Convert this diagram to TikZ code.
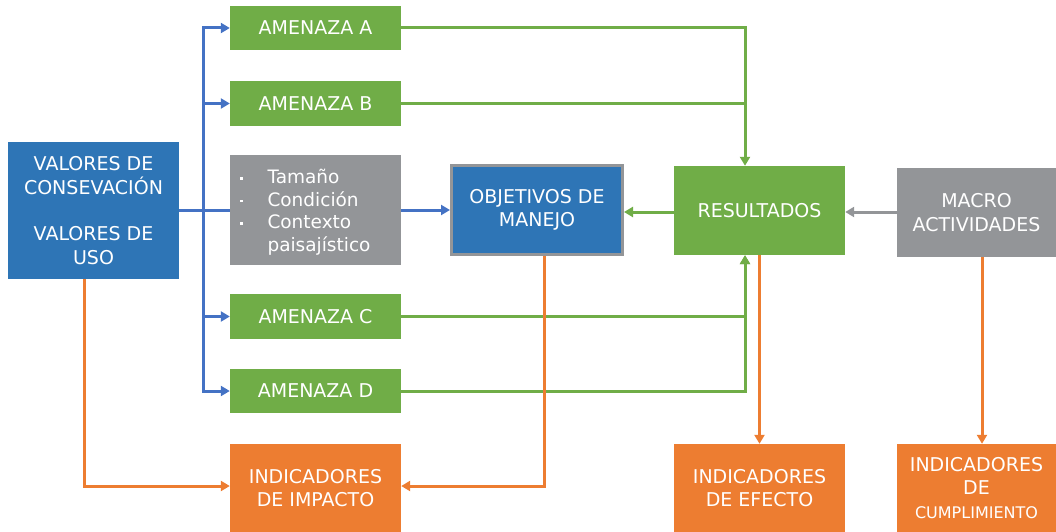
\documentclass[tikz,border=0pt]{standalone}
\usepackage{fontspec}
\setmainfont{DejaVu Sans}
\usetikzlibrary{arrows.meta}
\definecolor{cblue}{HTML}{2E75B6}
\definecolor{lblue}{HTML}{4472C4}
\definecolor{cgreen}{HTML}{70AD47}
\definecolor{cgray}{HTML}{939598}
\definecolor{corange}{HTML}{ED7D31}
\begin{document}
\begin{tikzpicture}[x=1pt,y=-1pt,
  box/.style={rectangle, inner sep=0pt, text=white, align=center,
    font=\fontsize{19}{23.3}\selectfont, minimum width=171pt},
  greenbox/.style={box, fill=cgreen},
  orangebox/.style={box, fill=corange},
  graybox/.style={box, fill=cgray},
  conn/.style={line width=3pt, -{Triangle[length=9pt,width=10pt]}},
  plain/.style={line width=3pt},
]
\useasboundingbox (0,0) rectangle (1056,532);

% nodes
\node[box, fill=cblue, minimum height=137pt] (val) at (93.5,210.5)
  {VALORES DE\\CONSEVACIÓN\\[23.3pt]VALORES DE\\USO};
\node[greenbox, minimum height=44pt] (amA) at (315.5,28) {AMENAZA A};
\node[greenbox, minimum height=45pt] (amB) at (315.5,103.5) {AMENAZA B};
\node[graybox, minimum height=110pt, text width=151pt, inner xsep=10pt, align=left,
  font=\fontsize{18.5}{22.6}\selectfont] (gr) at (315.5,210)
  {\raisebox{-3pt}[\height][\depth]{\begin{tabular}{@{}l@{\hspace{25pt}}l@{}}
   \rule[4pt]{2.5pt}{2.5pt} & Tamaño\\
   \rule[4pt]{2.5pt}{2.5pt} & Condición\\
   \rule[4pt]{2.5pt}{2.5pt} & Contexto\\
   & paisajístico
   \end{tabular}}};
\node[greenbox, minimum height=45pt] (amC) at (315.5,316.5) {AMENAZA C};
\node[greenbox, minimum height=44pt] (amD) at (315.5,391) {AMENAZA D};
\node[orangebox, minimum height=88pt] (imp) at (315.5,488) {INDICADORES\\DE IMPACTO};
\node[box, fill=cblue, draw=cgray, line width=3pt, minimum width=171pt,
  minimum height=89pt] (obj) at (537,210) {OBJETIVOS DE\\MANEJO};
\node[greenbox, minimum height=89pt] (res) at (759.5,210.5) {RESULTADOS};
\node[graybox, minimum width=159pt, minimum height=89pt] (mac) at (976.5,212.5)
  {MACRO\\ACTIVIDADES};
\node[orangebox, minimum height=88pt] (efe) at (759.5,488) {INDICADORES\\DE EFECTO};
\node[orangebox, minimum width=159pt, minimum height=88pt] (cum) at (976.5,488)
  {INDICADORES\\DE\\{\fontsize{16}{20}\selectfont CUMPLIMIENTO}};

% helper coordinates
\coordinate (trunk) at (203,210);
\coordinate (gx) at (745,0);
\coordinate (ox) at (84,0);
\coordinate (objx) at (544.5,0);
\coordinate (macx) at (982,0);
\coordinate (midy) at (0,212);

% blue connectors
\draw[plain, lblue] (val.east |- trunk) -- (gr.west |- trunk);
\draw[conn, lblue] (gr.east |- trunk) -- (obj.west |- trunk);
\draw[conn, lblue] (trunk) |- (amA.west);
\draw[conn, lblue] (trunk) |- (amB.west);
\draw[conn, lblue] (trunk) |- (amC.west);
\draw[conn, lblue] (trunk) |- (amD.west);

% green connectors
\draw[conn, cgreen] (amA.east) -| (gx |- res.north);
\draw[plain, cgreen] (amB.east) -- (amB.east -| gx);
\draw[conn, cgreen] (amC.east) -| (gx |- res.south);
\draw[conn, cgreen] (amD.east) -| (gx |- res.south);
\draw[conn, cgreen] (res.west |- midy) -- (obj.east |- midy);

% gray connector
\draw[conn, cgray] (mac.west |- midy) -- (res.east |- midy);

% orange connectors
\draw[conn, corange] (ox |- val.south) |- ([yshift=2pt]imp.west);
\draw[conn, corange] (objx |- obj.south) |- ([yshift=2pt]imp.east);
\draw[conn, corange] (res.south) -- (efe.north);
\draw[conn, corange] (macx |- mac.south) -- (macx |- cum.north);
\end{tikzpicture}
\end{document}
